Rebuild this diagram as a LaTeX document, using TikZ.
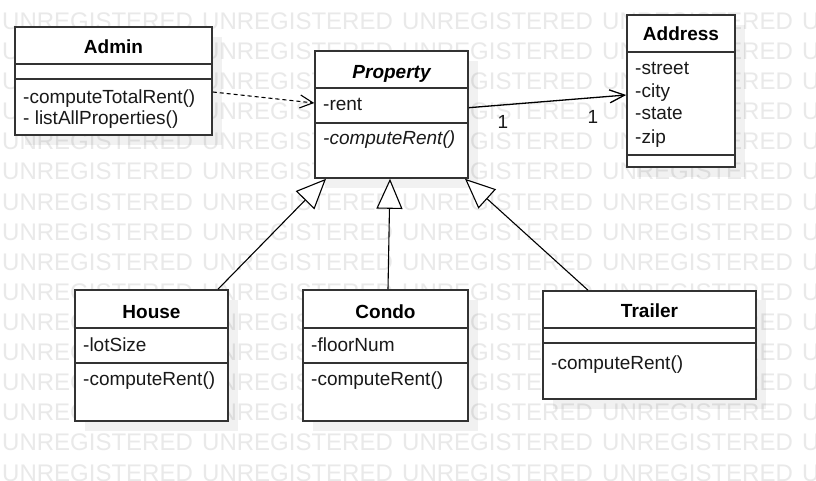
\documentclass[tikz,border=0pt]{standalone}
\usepackage{fontspec}
\setmainfont{Liberation Sans}
\usetikzlibrary{arrows.meta}
\definecolor{wmark}{RGB}{233,233,233}
\definecolor{boxline}{RGB}{51,51,51}
\definecolor{txt}{RGB}{25,25,25}
\tikzset{
  wm/.style={anchor=base west, inner sep=0pt, text=wmark, font=\fontsize{24}{24}\selectfont},
  classbox/.style={draw=boxline, line width=1.6pt, fill=white, inner sep=0pt},
  shade/.style={fill=black, opacity=0.055},
  divider/.style={draw=boxline, line width=1.4pt},
  title/.style={anchor=base, inner sep=0pt, text=black, font=\fontsize{19}{22}\selectfont\bfseries},
  member/.style={anchor=base west, inner sep=0pt, text=txt, font=\fontsize{19}{22}\selectfont},
  mult/.style={anchor=center, inner sep=0pt, text=txt, font=\fontsize{19}{22}\selectfont},
  dep/.style={draw=black, line width=1.1pt, dash pattern=on 4pt off 3pt, -{Straight Barb[length=13pt,width=13pt,line width=1.1pt]}},
  assoc/.style={draw=black, line width=1.3pt, -{Straight Barb[length=15pt,width=13pt,line width=1.3pt]}},
  gen/.style={draw=black, line width=1.1pt, -{Triangle[length=30pt,width=26pt,fill=white,line width=1.1pt]}},
}
\begin{document}
\begin{tikzpicture}[x=1pt,y=-1pt]
\useasboundingbox (0,0) rectangle (816,481);
\clip (0,0) rectangle (816,481);
\fill[white] (0,0) rectangle (816,481);
% watermark
\foreach \k in {0,...,15}{
  \foreach \j in {0,...,4}{
    \node[wm] at ({2+200*\j},{29.5+30.1*\k}) {UNREGISTERED};
  }
}
% shadows
\fill[shade] (25,37) rectangle (222,145);
\fill[shade] (325,61) rectangle (478,188);
\fill[shade] (637,25) rectangle (745,177);
\fill[shade] (85,300) rectangle (238,431);
\fill[shade] (313,300) rectangle (478,431);
\fill[shade] (553,300) rectangle (766,409);

% Admin
\node[classbox, minimum width=197pt, minimum height=108pt] (admin) at (113.5,81) {};
\draw[divider] (admin.west |- 0,64) -- (admin.east |- 0,64);
\draw[divider] (admin.west |- 0,79) -- (admin.east |- 0,79);
\node[title] (admint) at (113.5,54) {Admin};
\node[member] (admin1) at (23,104) {-computeTotalRent()};
\node[member] (admin2) at (23,125) {- listAllProperties()};

% Property
\node[classbox, minimum width=153pt, minimum height=127pt] (property) at (391.5,114.5) {};
\draw[divider] (property.west |- 0,88) -- (property.east |- 0,88);
\draw[divider] (property.west |- 0,123) -- (property.east |- 0,123);
\node[title, font=\fontsize{19}{22}\selectfont\bfseries\itshape] (propt) at (391.5,79) {Property};
\node[member] (prop1) at (323,111) {-rent};
\node[member, font=\fontsize{19}{22}\selectfont\itshape] (prop2) at (323,145) {-computeRent()};

% Address
\node[classbox, minimum width=108pt, minimum height=152pt] (address) at (681,91) {};
\draw[divider] (address.west |- 0,52) -- (address.east |- 0,52);
\draw[divider] (address.west |- 0,155) -- (address.east |- 0,155);
\node[title] (addrt) at (681,41) {Address};
\node[member] (addr1) at (635,75) {-street};
\node[member] (addr2) at (635,98) {-city};
\node[member] (addr3) at (635,120) {-state};
\node[member] (addr4) at (635,144) {-zip};

% House
\node[classbox, minimum width=153pt, minimum height=131pt] (house) at (151.5,355.5) {};
\draw[divider] (house.west |- 0,328) -- (house.east |- 0,328);
\draw[divider] (house.west |- 0,363) -- (house.east |- 0,363);
\node[title] (houset) at (151.5,318) {House};
\node[member] (house1) at (83,351) {-lotSize};
\node[member] (house2) at (83,385) {-computeRent()};

% Condo
\node[classbox, minimum width=165pt, minimum height=131pt] (condo) at (385.5,355.5) {};
\draw[divider] (condo.west |- 0,328) -- (condo.east |- 0,328);
\draw[divider] (condo.west |- 0,363) -- (condo.east |- 0,363);
\node[title] (condot) at (385.5,318) {Condo};
\node[member] (condo1) at (311,351) {-floorNum};
\node[member] (condo2) at (311,385) {-computeRent()};

% Trailer
\node[classbox, minimum width=213pt, minimum height=108pt] (trailer) at (649.5,345) {};
\draw[divider] (trailer.west |- 0,328) -- (trailer.east |- 0,328);
\draw[divider] (trailer.west |- 0,343) -- (trailer.east |- 0,343);
\node[title] (trailert) at (649.5,317) {Trailer};
\node[member] (trailer1) at (551,369) {-computeRent()};

% connectors
\draw[dep] ([yshift=-11pt]admin.east) -- ([yshift=11.5pt]property.west);
\draw[assoc] ([yshift=6.8pt]property.east) -- ([yshift=-4pt]address.west);
\node[mult] (m1) at (503,122) {1};
\node[mult] (m2) at (593,117) {1};
\draw[gen] ([xshift=66.5pt]house.north) -- ([xshift=-65.5pt]property.south);
\draw[gen] ([xshift=2.5pt]condo.north) -- ([xshift=-1.5pt]property.south);
\draw[gen] ([xshift=-61.5pt]trailer.north) -- ([xshift=73.5pt]property.south);
\end{tikzpicture}
\end{document}
